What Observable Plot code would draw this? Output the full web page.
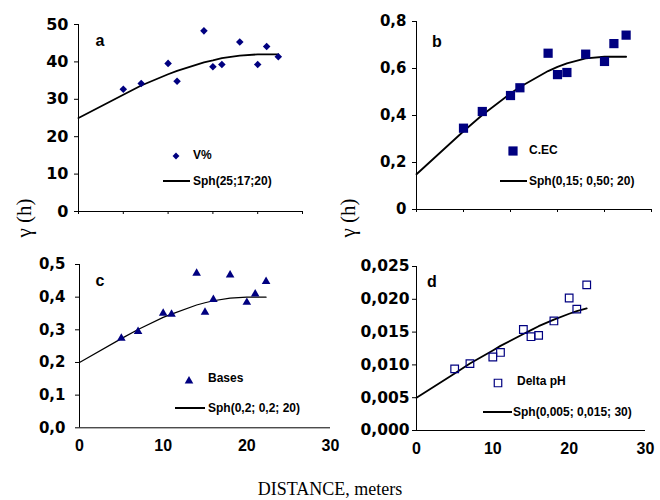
<!DOCTYPE html>
<html>
<head>
<meta charset="utf-8">
<script src="https://cdn.jsdelivr.net/npm/d3@7"></script>
<script src="https://cdn.jsdelivr.net/npm/@observablehq/plot@0.6"></script>
<style>
  body { margin: 0; background: #fff; }
  #wrap { position: relative; width: 660px; height: 500px; overflow: hidden; background: #fff; }
  #wrap svg { position: absolute; background: transparent; }
  .t { position: absolute; white-space: nowrap; color: #000; }
  .leg { font: bold 12px "Liberation Sans", Arial, sans-serif; transform: translateY(-50%); }
  .pl { font: bold 16px "Liberation Sans", Arial, sans-serif; transform: translate(-50%, -50%); }
  .yl { font: 21px "Liberation Serif", "Times New Roman", serif; transform: translate(-50%, -50%) rotate(-90deg); }
  .xl { font: 18px "Liberation Serif", "Times New Roman", serif; transform: translate(-50%, -50%); }
  .ln { position: absolute; height: 0; border-top: 2px solid #000; transform: translateY(-1px); }
</style>
</head>
<body>
<div id="wrap"></div>
<script>
// ---- data ----
const lags = [5, 7, 10, 11, 14, 15, 16, 18, 20, 21, 22.3];
const vPct = [32.7, 34.2, 39.6, 34.8, 48.3, 38.7, 39.3, 45.3, 39.3, 44.1, 41.4];
const cec = [0.346, 0.417, 0.485, 0.518, 0.665, 0.574, 0.583, 0.661, 0.630, 0.706, 0.742];
const bases = [0.274, 0.295, 0.351, 0.348, 0.473, 0.354, 0.393, 0.468, 0.384, 0.410, 0.448];
const deltaPH = [0.0094, 0.0102, 0.0112, 0.0119, 0.0154, 0.0143, 0.0145, 0.0167, 0.0202, 0.0185, 0.0222];

const modelLags = [0, 5, 7, 10, 11, 14, 15, 16, 18, 20, 21, 22.3];
const modelA = [25, 31.2, 33.7, 36.7, 37.6, 39.9, 40.4, 41.0, 41.7, 42, 42, 42];
const modelB = [0.15, 0.333, 0.402, 0.494, 0.521, 0.589, 0.607, 0.622, 0.643, 0.65, 0.65, 0.65];
const modelC = [0.2, 0.273, 0.301, 0.338, 0.348, 0.376, 0.383, 0.389, 0.397, 0.4, 0.4, 0.4];
const modelD = [0.005, 0.0087, 0.0102, 0.0122, 0.0129, 0.0147, 0.0153, 0.0159, 0.0169, 0.0178, 0.0182, 0.0186];

const yTicksA = [0, 10, 20, 30, 40, 50];
const yTicksB = [0, 0.2, 0.4, 0.6, 0.8];
const yTicksC = [0, 0.1, 0.2, 0.3, 0.4, 0.5];
const yTicksD = [0, 0.005, 0.01, 0.015, 0.02, 0.025];
const xTicksTop = [0, 5, 10, 15, 20, 25];
const xTicksBottom = [0, 10, 20, 30];

const labelsA = {series: "V%", model: "Sph(25;17;20)", panel: "a"};
const labelsB = {series: "C.EC", model: "Sph(0,15; 0,50; 20)", panel: "b"};
const labelsC = {series: "Bases", model: "Sph(0,2; 0,2; 20)", panel: "c"};
const labelsD = {series: "Delta pH", model: "Sph(0,005; 0,015; 30)", panel: "d"};
const yTitle = "γ (h)";
const xTitle = "DISTANCE, meters";

const NAVY = "#000080";
const wrap = document.getElementById("wrap");

function comma(dec, zeroPlain) {
  return d => (zeroPlain && d === 0) ? "0" : d.toFixed(dec).replace(".", ",");
}

function panel(o) {
  const pts = o.lags.map((h, i) => ({h, g: o.values[i]}));
  const mdl = o.mLags.map((h, i) => ({h, g: o.model[i]}));
  const marks = [
    Plot.ruleX([0], {stroke: "#000", strokeWidth: 1}),
    Plot.ruleY([0], {stroke: "#000", strokeWidth: 1}),
    Plot.axisY({ticks: o.yTicks, tickSize: 4, tickPadding: o.yPad, tickFormat: o.yFmt, label: null,
      fontSize: o.yFont, fontWeight: "bold", fontFamily: "DejaVu Sans"}),
  ];
  if (o.top) {
    marks.push(Plot.axisX({ticks: o.xTicks, tickSize: 3, tickFormat: () => "", label: null}));
  } else {
    marks.push(Plot.axisX({ticks: o.xTicks, tickSize: 0, tickPadding: 12, label: null,
      fontSize: 16, fontWeight: "bold", fontFamily: "Liberation Sans"}));
  }
  marks.push(Plot.line(mdl, {x: "h", y: "g", stroke: "#000", strokeWidth: o.lw}));
  marks.push(Plot.dot(pts, {x: "h", y: "g", symbol: o.symbol, r: o.r,
    fill: o.open ? "none" : NAVY, stroke: o.open ? NAVY : "none", strokeWidth: 1.2}));
  const svg = Plot.plot({
    width: o.w, height: o.h,
    marginLeft: o.ml, marginRight: o.mr, marginTop: o.mt, marginBottom: o.mb,
    x: {domain: o.xDomain}, y: {domain: o.yDomain},
    style: {background: "transparent", color: "#000", overflow: "visible"},
    marks
  });
  svg.style.left = o.left + "px";
  svg.style.top = o.topPx + "px";
  wrap.appendChild(svg);
}

panel({left: 0, topPx: 0, w: 330, h: 230, ml: 78, mr: 28, mt: 24, mb: 19, top: true,
  xDomain: [0, 25], yDomain: [0, 50], xTicks: xTicksTop, yTicks: yTicksA, yFmt: d => String(d), yPad: 6, yFont: 16,
  lags, values: vPct, mLags: modelLags, model: modelA, symbol: "diamond2", r: 3.4, lw: 1.8});
panel({left: 330, topPx: 0, w: 330, h: 230, ml: 86, mr: 9, mt: 21, mb: 21, top: true,
  xDomain: [0, 25], yDomain: [0, 0.8], xTicks: xTicksTop, yTicks: yTicksB, yFmt: comma(1, true), yPad: 6, yFont: 15,
  lags, values: cec, mLags: modelLags, model: modelB, symbol: "square", r: 5.2, lw: 1.8});
panel({left: 0, topPx: 240, w: 340, h: 240, ml: 79, mr: 10, mt: 24, mb: 52.7, top: false,
  xDomain: [0, 30], yDomain: [0, 0.5], xTicks: xTicksBottom, yTicks: yTicksC, yFmt: comma(1), yPad: 10, yFont: 15,
  lags, values: bases, mLags: modelLags, model: modelC, symbol: "triangle", r: 3.2, lw: 1.2});
panel({left: 330, topPx: 240, w: 330, h: 240, ml: 86, mr: 15, mt: 26, mb: 50, top: false,
  xDomain: [0, 30], yDomain: [0, 0.025], xTicks: xTicksBottom, yTicks: yTicksD, yFmt: comma(3), yPad: 3, yFont: 15.5,
  lags, values: deltaPH, mLags: modelLags, model: modelD, symbol: "square", r: 4.3, open: true, lw: 1.8});

// ---- text & legends ----
function text(cls, str, x, y) {
  const d = document.createElement("div");
  d.className = "t " + cls;
  d.textContent = str;
  d.style.left = x + "px";
  d.style.top = y + "px";
  wrap.appendChild(d);
  return d;
}
function lineKey(x1, x2, y) {
  const d = document.createElement("div");
  d.className = "ln";
  d.style.left = x1 + "px";
  d.style.width = (x2 - x1) + "px";
  d.style.top = y + "px";
  wrap.appendChild(d);
}
function symKey(kind, cx, cy) {
  const ns = "http://www.w3.org/2000/svg";
  const s = document.createElementNS(ns, "svg");
  s.setAttribute("width", 14); s.setAttribute("height", 14);
  s.style.left = (cx - 7) + "px"; s.style.top = (cy - 7) + "px";
  const p = document.createElementNS(ns, "path");
  const sym = {diamond: d3.symbolDiamond2, square: d3.symbolSquare, triangle: d3.symbolTriangle}[kind.split("-")[0]];
  const size = {diamond: 30, square: 85, triangle: 32, "square-open": 56}[kind];
  p.setAttribute("d", d3.symbol(sym, size)());
  p.setAttribute("transform", "translate(7,7)");
  if (kind === "square-open") { p.setAttribute("fill", "none"); p.setAttribute("stroke", NAVY); p.setAttribute("stroke-width", 1.2); }
  else p.setAttribute("fill", NAVY);
  s.appendChild(p);
  wrap.appendChild(s);
}

symKey("diamond", 176, 155.5); text("leg", labelsA.series, 193, 155);
lineKey(163, 190, 181); text("leg", labelsA.model, 193, 181);
symKey("square", 513, 151); text("leg", labelsB.series, 529, 150);
lineKey(500, 527, 181); text("leg", labelsB.model, 529, 181);
symKey("triangle", 189, 381); text("leg", labelsC.series, 208, 378);
lineKey(175, 205, 408); text("leg", labelsC.model, 208, 408);
symKey("square-open", 498, 383); text("leg", labelsD.series, 517, 381);
lineKey(483, 512, 412); text("leg", labelsD.model, 513, 412);

text("pl", labelsA.panel, 100, 41);
text("pl", labelsB.panel, 437, 42);
text("pl", labelsC.panel, 100, 281);
text("pl", labelsD.panel, 432, 282);

text("yl", yTitle, 24, 218);
text("yl", yTitle, 348, 218);
text("xl", xTitle, 330, 489);
</script>
</body>
</html>
